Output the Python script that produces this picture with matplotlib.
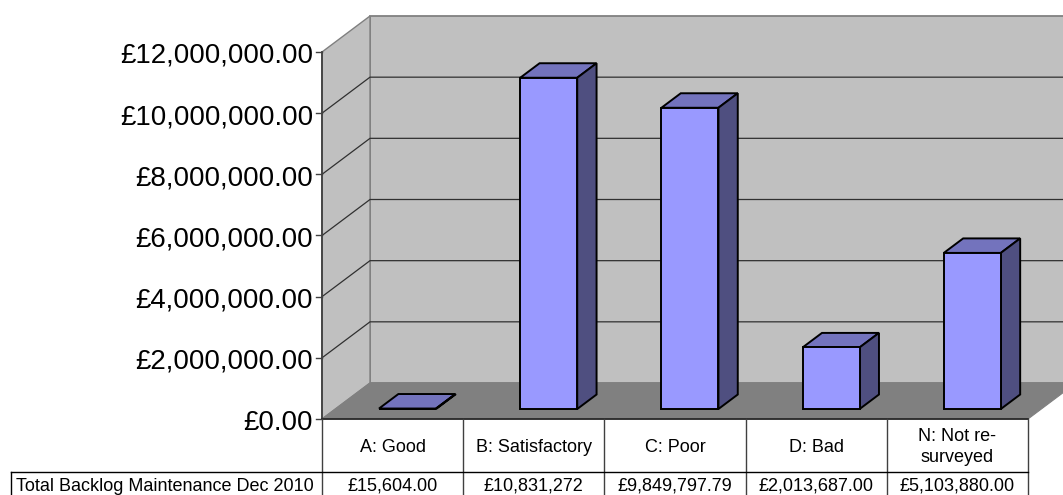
import matplotlib
matplotlib.use('Agg')
import matplotlib.pyplot as plt
from matplotlib.patches import Polygon

plt.rcParams['font.family'] = ['Liberation Sans', 'DejaVu Sans']

# data
categories = ['A: Good', 'B: Satisfactory', 'C: Poor', 'D: Bad', 'N: Not re-\nsurveyed']
backlog = [15604.00, 10831272, 9849797.79, 2013687.00, 5103880.00]
backlog_labels = ['£15,604.00', '£10,831,272', '£9,849,797.79', '£2,013,687.00', '£5,103,880.00']
row_name = 'Total Backlog Maintenance Dec 2010'
y_ticks = [0, 2000000, 4000000, 6000000, 8000000, 10000000, 12000000]

W, H = 1063, 495
fig = plt.figure(figsize=(W / 100, H / 100), dpi=100)
ax = fig.add_axes([322 / W, (H - 419) / H, 706 / W, 367 / H])
ax.set_xlim(0, len(categories))
ax.set_ylim(0, 12000000)
ax.axis('off')

# oblique projection, depth 0 is the front of the box and depth 1 the back wall
x_per_px = len(categories) / 706
y_per_px = 12000000 / 367
depth_x = 48 * x_per_px
depth_y = 36 * y_per_px


def pt(x, y, d=0.0):
    return (x + d * depth_x, y + d * depth_y)


def face(points, color, edge, lw=1.0, z=1):
    ax.add_patch(Polygon([pt(*p) for p in points], closed=True, facecolor=color,
                         edgecolor=edge, linewidth=lw, zorder=z, clip_on=False,
                         joinstyle='miter'))


n = len(categories)
top = y_ticks[-1]

# walls and floor
face([(0, top, 1), (n, top, 1), (n, 0, 1), (0, 0, 1)], '#c0c0c0', '#808080', 1.3, 1)
face([(0, 0, 0), (0, 0, 1), (0, top, 1), (0, top, 0)], '#c0c0c0', '#808080', 1.0, 1)
face([(0, 0, 0), (n, 0, 0), (n, 0, 1), (0, 0, 1)], '#808080', '#808080', 0.8, 2)

# gridlines run along the side wall and across the back wall
for v in y_ticks[1:-1]:
    xs, ys = zip(pt(0, v, 0), pt(0, v, 1), pt(n, v, 1))
    ax.plot(xs, ys, color='#303030', lw=0.9, zorder=2, clip_on=False)

# value axis and tick marks
ax.plot([0, 0], [0, top], color='#404040', lw=1.3, zorder=3, clip_on=False)
ax.plot([0, n], [0, 0], color='#202020', lw=1.2, zorder=3, clip_on=False)
for v in y_ticks:
    ax.plot([-6 * x_per_px, 0], [v, v], color='#404040', lw=1.0, zorder=3, clip_on=False)
    ax.text(-9 * x_per_px, v - 4 * y_per_px, f'£{v:,.2f}', ha='right', va='center',
            fontsize=19.9, color='black', clip_on=False)

# bars
bar_w = 57 * x_per_px
bar_gap = 43.7 * x_per_px
d0, d1 = 10 / 36, 24.5 / 36
for i, val in enumerate(backlog):
    x0 = i + bar_gap
    x1 = x0 + bar_w
    face([(x0, val, d0), (x1, val, d0), (x1, val, d1), (x0, val, d1)], '#7373bd', 'black', 1.4, 4)
    face([(x1, 0, d0), (x1, 0, d1), (x1, val, d1), (x1, val, d0)], '#4f4f80', 'black', 1.4, 4)
    face([(x0, 0, d0), (x1, 0, d0), (x1, val, d0), (x0, val, d0)], '#9999ff', 'black', 1.4, 5)

# data table below the chart, in pixel coordinates
tb = fig.add_axes([0, 0, 1, 1], zorder=6)
tb.set_xlim(0, W)
tb.set_ylim(H, 0)
tb.axis('off')
tb.patch.set_alpha(0)

cell_w = 706 / n
row_y = 472
for i in range(n + 1):
    tb.plot([322 + i * cell_w] * 2, [419, H], color='#404040', lw=1.0)
tb.plot([11, 1028], [row_y, row_y], color='black', lw=1.0)
tb.plot([11, 11], [row_y, H], color='black', lw=1.0)

for i in range(n):
    cx = 322 + (i + 0.5) * cell_w
    tb.text(cx, 447, categories[i], ha='center', va='center', fontsize=13, linespacing=1.25)
    tb.text(cx, 486, backlog_labels[i], ha='center', va='center', fontsize=13)
tb.text(16, 486.5, row_name, ha='left', va='center', fontsize=13)

fig.savefig('out.png', dpi=100, facecolor='white')
